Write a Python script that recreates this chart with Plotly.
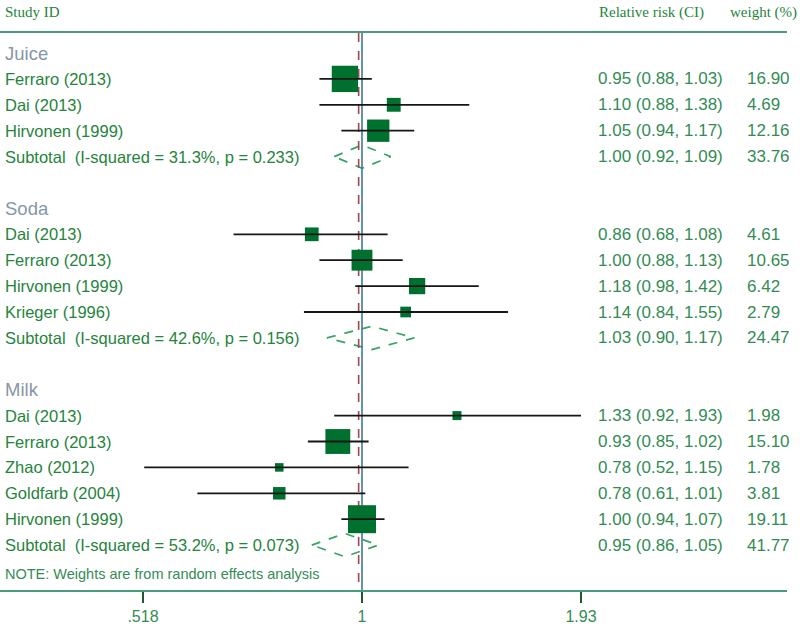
import math
import plotly.graph_objects as go

# ---------------- data ----------------
groups = ["Juice", "Soda", "Milk"]
studies = [
    ["Ferraro (2013)", "Dai (2013)", "Hirvonen (1999)"],
    ["Dai (2013)", "Ferraro (2013)", "Hirvonen (1999)", "Krieger (1996)"],
    ["Dai (2013)", "Ferraro (2013)", "Zhao (2012)", "Goldfarb (2004)", "Hirvonen (1999)"],
]
rr = [[0.95, 1.10, 1.05], [0.86, 1.00, 1.18, 1.14], [1.33, 0.93, 0.78, 0.78, 1.00]]
lo = [[0.88, 0.88, 0.94], [0.68, 0.88, 0.98, 0.84], [0.92, 0.85, 0.52, 0.61, 0.94]]
hi = [[1.03, 1.38, 1.17], [1.08, 1.13, 1.42, 1.55], [1.93, 1.02, 1.15, 1.01, 1.07]]
weights = [[16.90, 4.69, 12.16], [4.61, 10.65, 6.42, 2.79], [1.98, 15.10, 1.78, 3.81, 19.11]]
sub_rr = [1.00, 1.03, 0.95]
sub_lo = [0.92, 0.90, 0.86]
sub_hi = [1.09, 1.17, 1.05]
sub_w = [33.76, 24.47, 41.77]
sub_i2 = ["31.3%", "42.6%", "53.2%"]
sub_p = ["0.233", "0.156", "0.073"]
overall = 0.99
tick_vals = [0.518, 1, 1.93]
tick_text = [".518", "1", "1.93"]
note = "NOTE: Weights are from random effects analysis"

# ---------------- layout constants ----------------
W, H = 800, 632
ML, MR, MT, MB = 0, 13, 33, 42
PW = W - ML - MR
row0_px, row_px = 53.0, 25.9
y_top = (MT - row0_px) / row_px
y_bot = (H - MB - row0_px) / row_px
px_per_log10 = 766.8
x_one_px = 362.0
xr = [-(x_one_px - ML) / px_per_log10, (W - MR - x_one_px) / px_per_log10]

lab_col = "#25843c"
val_col = "#338c55"
grp_col = "#8796a3"
sq_col = "#00702f"
dia_col = "#3aa466"
rule_col = "#4a9a7c"

fig = go.Figure()
ann = []

def px2paper(px):
    return (px - ML) / PW

def add_text(txt, px, row, size=16.5, color=lab_col, family="Liberation Sans, Arial", anchor="left"):
    ann.append(dict(x=px2paper(px), xref="paper", y=row, yref="y", text=txt,
                    showarrow=False, xanchor=anchor, yanchor="middle",
                    font=dict(size=size, color=color, family=family)))

row = 0
ci_x, ci_y = [], []
sq_x, sq_y, sq_s = [], [], []
for g in range(len(groups)):
    add_text(groups[g], 3, row, size=18.5, color=grp_col)
    row += 1
    for i, s in enumerate(studies[g]):
        add_text(s, 3, row)
        add_text(f"{rr[g][i]:.2f} ({lo[g][i]:.2f}, {hi[g][i]:.2f})", 596, row, size=17, color=val_col)
        add_text(f"{weights[g][i]:.2f}", 745, row, size=17, color=val_col)
        ci_x += [lo[g][i], hi[g][i], None]
        ci_y += [row, row, None]
        sq_x.append(rr[g][i]); sq_y.append(row); sq_s.append(6.4 * math.sqrt(weights[g][i]))
        row += 1
    add_text(f"Subtotal\u00a0\u00a0(I-squared = {sub_i2[g]}, p = {sub_p[g]})", 3, row)
    add_text(f"{sub_rr[g]:.2f} ({sub_lo[g]:.2f}, {sub_hi[g]:.2f})", 596, row, size=17, color=val_col)
    add_text(f"{sub_w[g]:.2f}", 745, row, size=17, color=val_col)
    h = 0.45
    fig.add_trace(go.Scatter(
        x=[sub_lo[g], sub_rr[g], sub_hi[g], sub_rr[g], sub_lo[g]],
        y=[row, row - h, row, row + h, row], mode="lines",
        line=dict(color=dia_col, width=1.7, dash="dash"), hoverinfo="skip", showlegend=False))
    row += 2
note_row = row - 1 + 0.1
add_text(note, 3, note_row, size=14.5, color=val_col)

# vertical reference lines
fig.add_trace(go.Scatter(x=[1, 1], y=[y_top, y_bot], mode="lines",
                         line=dict(color="#3a7b96", width=1.6), hoverinfo="skip", showlegend=False))
fig.add_trace(go.Scatter(x=[overall, overall], y=[y_top, y_bot], mode="lines",
                         line=dict(color="#a84545", width=1.6, dash="dash"), hoverinfo="skip", showlegend=False))
# squares
fig.add_trace(go.Scatter(x=sq_x, y=sq_y, mode="markers", opacity=1,
                         marker=dict(symbol="square", size=sq_s, color=sq_col, opacity=1, line=dict(width=0)),
                         hoverinfo="skip", showlegend=False))
# CI lines
fig.add_trace(go.Scatter(x=ci_x, y=ci_y, mode="lines",
                         line=dict(color="#161616", width=1.8), hoverinfo="skip", showlegend=False))

# headers
hdr = dict(size=15, color=lab_col, family="Liberation Serif, Times New Roman")
ytxt = 1 + (MT - 12) / (H - MT - MB)
for txt, px in [("Study ID", 3), ("Relative risk (CI)", 597), ("weight (%)", 728)]:
    ann.append(dict(x=px2paper(px), xref="paper", y=ytxt, yref="paper", text=txt,
                    showarrow=False, xanchor="left", yanchor="middle", font=hdr))

fig.update_layout(
    width=W, height=H, margin=dict(l=ML, r=MR, t=MT, b=MB),
    paper_bgcolor="white", plot_bgcolor="white", annotations=ann,
    xaxis=dict(type="log", range=xr, showgrid=False, zeroline=False,
               showline=True, mirror=True, linecolor=rule_col, linewidth=2,
               ticks="outside", ticklen=11, tickwidth=1.5, tickcolor="#1f5a2f",
               tickvals=tick_vals, ticktext=tick_text,
               tickfont=dict(size=16, color=val_col, family="Liberation Sans, Arial")),
    yaxis=dict(range=[y_bot, y_top], showgrid=False, zeroline=False, showline=False,
               showticklabels=False, ticks=""),
)
fig.write_html("out.html", config={"displayModeBar": False},
               post_script="document.body.style.margin='0';document.body.style.overflow='hidden';")
